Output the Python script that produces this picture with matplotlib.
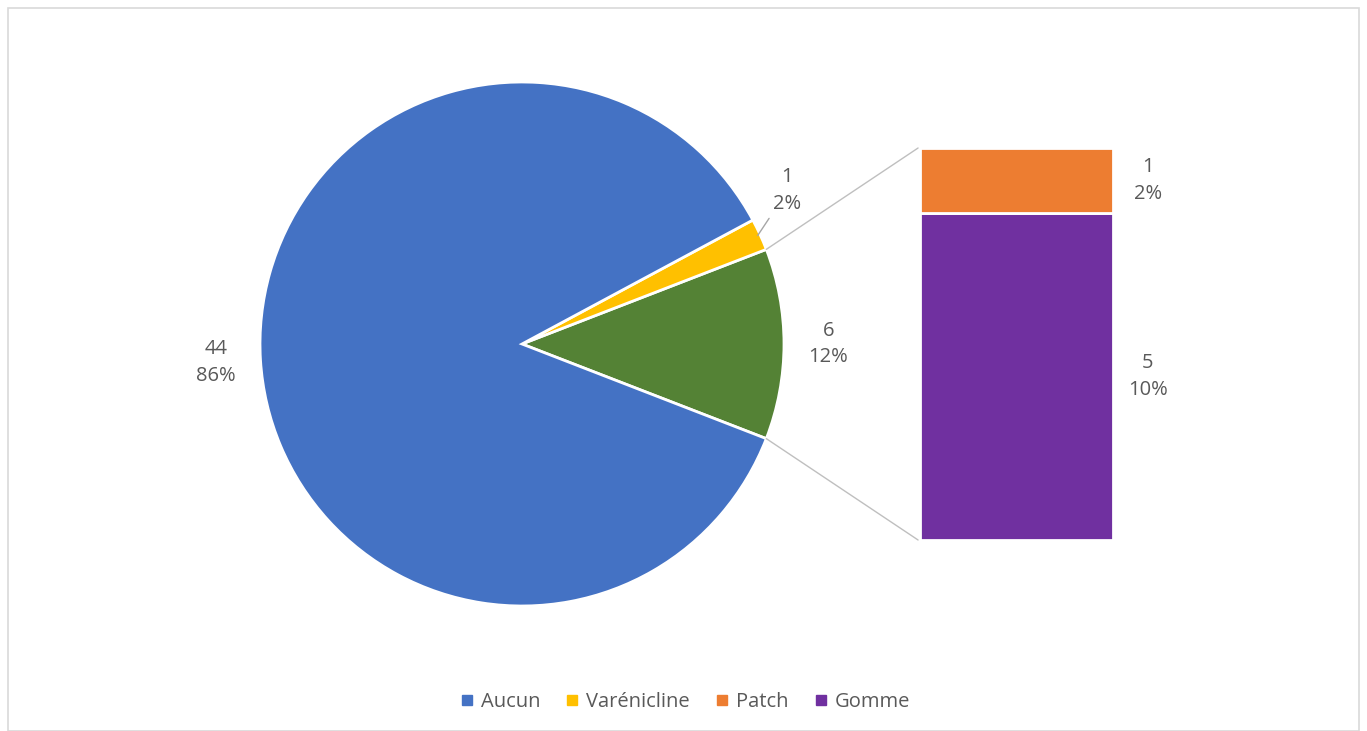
import numpy as np
import matplotlib
matplotlib.use("Agg")
import matplotlib.pyplot as plt
from matplotlib.patches import ConnectionPatch, Rectangle
from matplotlib.lines import Line2D

plt.rcParams['font.family'] = ['Open Sans', 'DejaVu Sans']

# pie data (the "other" wedge is split in the bar)
pie_labels = ['Autre', 'Varénicline', 'Aucun']
pie_values = [6, 1, 44]
pie_colors = ['#548235', '#FFC000', '#4472C4']

bar_labels = ['Gomme', 'Patch']
bar_values = [5, 1]
bar_colors = ['#7030A0', '#ED7D31']

legend_labels = ['Aucun', 'Varénicline', 'Patch', 'Gomme']
legend_colors = ['#4472C4', '#FFC000', '#ED7D31', '#7030A0']

total = sum(pie_values)
txt_color = '#595959'
fs = 14.5
W, H = 1367, 731

fig = plt.figure(figsize=(W / 100, H / 100), dpi=100)
fig.patches.append(Rectangle((8 / W, 0), 1 - 16 / W, 1 - 8 / H, transform=fig.transFigure,
                             fill=False, edgecolor='#d9d9d9', linewidth=1.2))

# pie axes: centre (522, 344) px, radius 262 px
r = 262
ax1 = fig.add_axes([(522 - r) / W, (H - 344 - r) / H, 2 * r / W, 2 * r / H])
other_angle = pie_values[0] / total * 360
start = -other_angle / 2
wedges, _ = ax1.pie(pie_values, colors=pie_colors, startangle=start, counterclock=True,
                    radius=1, wedgeprops=dict(edgecolor='white', linewidth=2))
ax1.set_xlim(-1, 1)
ax1.set_ylim(-1, 1)
ax1.set_aspect('equal')
ax1.axis('off')

# labels on pie
for w, v in zip(wedges, pie_values):
    mid = np.deg2rad((w.theta1 + w.theta2) / 2)
    txt = '{}\n{:.0f}%'.format(v, v / total * 100)
    if v == 1:
        ang = np.deg2rad(30)
        lx, ly = 1.17 * np.cos(ang), 1.17 * np.sin(ang)
        ax1.annotate(txt, xy=(0.99 * np.cos(mid), 0.99 * np.sin(mid)),
                     xytext=(lx, ly), ha='center', va='center', fontsize=fs,
                     color=txt_color, linespacing=1.45, annotation_clip=False,
                     arrowprops=dict(arrowstyle='-', color='#a6a6a6', lw=1,
                                     shrinkA=2, shrinkB=0))
    else:
        ax1.text(1.17 * np.cos(mid), 1.17 * np.sin(mid), txt, ha='center', va='center',
                 fontsize=fs, color=txt_color, linespacing=1.45)

# bar axes: x 920..1113, y 148..540 px
ax2 = fig.add_axes([920 / W, (H - 540) / H, 193 / W, 392 / H])
bottom = 0
for lab, v, c in zip(bar_labels, bar_values, bar_colors):
    ax2.bar(0, v, width=1, bottom=bottom, color=c, edgecolor='white', linewidth=2)
    ax2.text(0.68, bottom + v / 2, '{}\n{:.0f}%'.format(v, v / total * 100),
             ha='center', va='center', fontsize=fs, color=txt_color, linespacing=1.45)
    bottom += v
ax2.set_xlim(-0.5, 0.5)
ax2.set_ylim(0, sum(bar_values))
ax2.axis('off')

# connector lines
other = wedges[0]
for th, ybar in [(other.theta2, sum(bar_values)), (other.theta1, 0)]:
    t = np.deg2rad(th)
    con = ConnectionPatch(xyA=(np.cos(t), np.sin(t)), coordsA=ax1.transData,
                          xyB=(-0.51, ybar), coordsB=ax2.transData,
                          color='#bfbfbf', lw=1)
    fig.add_artist(con)

handles = [Line2D([], [], marker='s', linestyle='none', markersize=7,
                  markerfacecolor=c, markeredgecolor=c) for c in legend_colors]
fig.legend(handles, legend_labels, loc='center', bbox_to_anchor=(0.5, 1 - 702 / H),
           ncol=4, frameon=False, fontsize=fs, labelcolor=txt_color,
           handletextpad=0.2, columnspacing=1.1, handlelength=1.0)

fig.savefig('out.png', dpi=100, facecolor='white')
